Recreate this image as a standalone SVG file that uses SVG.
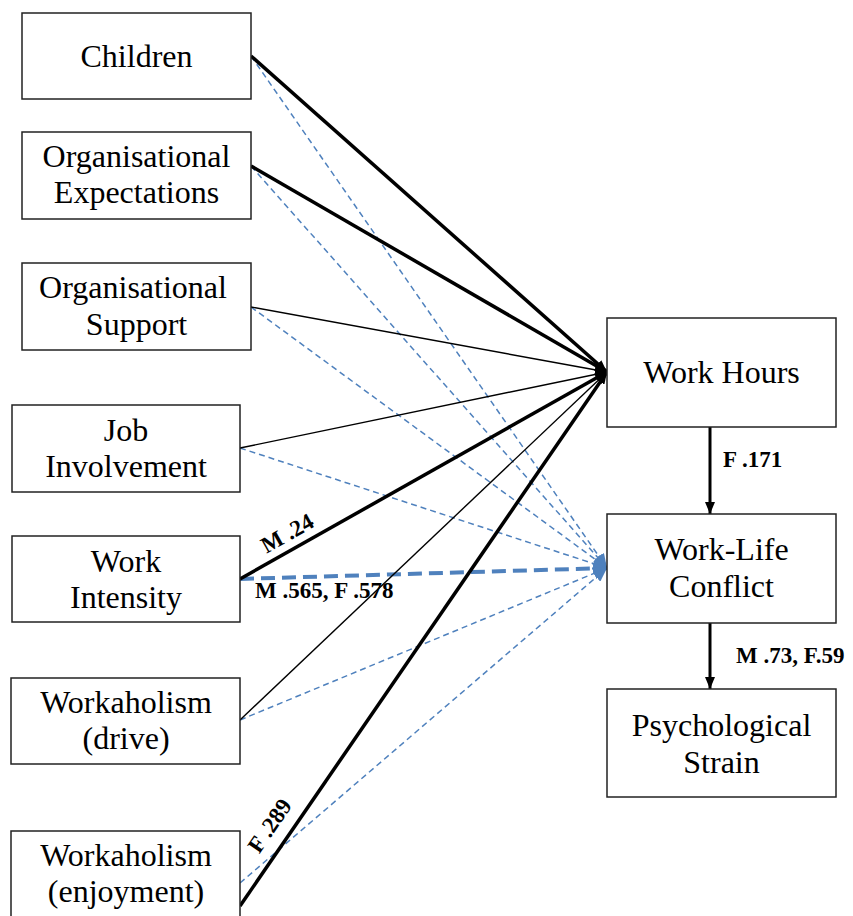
<svg xmlns="http://www.w3.org/2000/svg" width="853" height="916" viewBox="0 0 853 916">
<style>
.box{fill:#fff;stroke:#222;stroke-width:1.5}
.t{font-family:"Liberation Serif","Times New Roman",serif;font-size:32px;fill:#000;text-anchor:middle}
.lb{font-family:"Liberation Serif","Times New Roman",serif;font-size:23px;font-weight:bold;fill:#000}
.k{stroke:#000;fill:none}
.thick{stroke-width:3.5}
.thin{stroke-width:1.4}
.bl{stroke:#4f81bd;fill:none;stroke-width:1.5;stroke-dasharray:6 4}
.blt{stroke:#4f81bd;fill:none;stroke-width:4;stroke-dasharray:14 7}
</style>
<defs>
<marker id="ak" viewBox="0 0 12 10" refX="12" refY="5" markerWidth="12" markerHeight="10" markerUnits="userSpaceOnUse" orient="auto"><path d="M0,0 L12,5 L0,10 z" fill="#000"/></marker>
<marker id="ab" viewBox="0 0 14 12" refX="14" refY="6" markerWidth="14" markerHeight="12" markerUnits="userSpaceOnUse" orient="auto"><path d="M0,0 L14,6 L0,12 z" fill="#4f81bd"/></marker>
</defs>
<rect width="853" height="916" fill="#fff"/>
<g id="connectors">
<line class="bl" x1="251" y1="56" x2="607" y2="568" marker-end="url(#ab)"/>
<line class="bl" x1="251" y1="166" x2="607" y2="568" marker-end="url(#ab)"/>
<line class="bl" x1="251" y1="307" x2="607" y2="568" marker-end="url(#ab)"/>
<line class="bl" x1="240" y1="448" x2="607" y2="568" marker-end="url(#ab)"/>
<line class="blt" x1="240" y1="579" x2="607" y2="568" marker-end="url(#ab)"/>
<line class="bl" x1="240" y1="720" x2="607" y2="568" marker-end="url(#ab)"/>
<line class="bl" x1="240" y1="883" x2="607" y2="568" marker-end="url(#ab)"/>
<line class="k thick" x1="251" y1="56" x2="607" y2="372" marker-end="url(#ak)"/>
<line class="k thick" x1="251" y1="166" x2="607" y2="372" marker-end="url(#ak)"/>
<line class="k thin" x1="251" y1="307" x2="607" y2="372" marker-end="url(#ak)"/>
<line class="k thin" x1="240" y1="448" x2="607" y2="372" marker-end="url(#ak)"/>
<line class="k thick" x1="240" y1="579" x2="607" y2="372" marker-end="url(#ak)"/>
<line class="k thin" x1="240" y1="720" x2="607" y2="372" marker-end="url(#ak)"/>
<line class="k thick" x1="240" y1="906" x2="607" y2="372" marker-end="url(#ak)"/>
<line class="k" stroke-width="3" x1="710" y1="427" x2="710" y2="514" marker-end="url(#ak)"/>
<line class="k" stroke-width="3" x1="710" y1="623" x2="710" y2="689" marker-end="url(#ak)"/>
<text class="lb" x="291" y="540" text-anchor="middle" transform="rotate(-29.4 291 540)">M .24</text>
<text class="lb" x="255" y="598">M .565, F .578</text>
<text class="lb" x="276" y="830" text-anchor="middle" transform="rotate(-55.5 276 830)">F .289</text>
<text class="lb" x="723" y="467">F .171</text>
<text class="lb" x="736" y="663">M .73, F.59</text>
</g>
<g id="children"><rect class="box" x="22" y="13" width="229" height="86"/><text class="t" x="136.5" y="67">Children</text></g>
<g id="org-expectations"><rect class="box" x="22" y="132" width="229" height="87"/><text class="t" x="136.5" y="167">Organisational</text><text class="t" x="136.5" y="203">Expectations</text></g>
<g id="org-support"><rect class="box" x="22" y="263" width="229" height="87"/><text class="t" x="133" y="298">Organisational</text><text class="t" x="136.5" y="335">Support</text></g>
<g id="job-involvement"><rect class="box" x="12" y="405" width="228" height="87"/><text class="t" x="126" y="441">Job</text><text class="t" x="126" y="477">Involvement</text></g>
<g id="work-intensity"><rect class="box" x="12" y="536" width="228" height="86"/><text class="t" x="126" y="572">Work</text><text class="t" x="126" y="608">Intensity</text></g>
<g id="workaholism-drive"><rect class="box" x="11" y="678" width="229" height="86"/><text class="t" x="126" y="713">Workaholism</text><text class="t" x="126" y="749">(drive)</text></g>
<g id="workaholism-enjoyment"><rect class="box" x="11" y="831" width="229" height="100"/><text class="t" x="126" y="866">Workaholism</text><text class="t" x="126" y="902">(enjoyment)</text></g>
<g id="work-hours"><rect class="box" x="607" y="318" width="229" height="109"/><text class="t" x="721.5" y="383">Work Hours</text></g>
<g id="work-life-conflict"><rect class="box" x="607" y="514" width="229" height="109"/><text class="t" x="721.5" y="560">Work-Life</text><text class="t" x="721.5" y="597">Conflict</text></g>
<g id="psychological-strain"><rect class="box" x="607" y="689" width="229" height="108"/><text class="t" x="721.5" y="736">Psychological</text><text class="t" x="721.5" y="773">Strain</text></g>
</svg>
